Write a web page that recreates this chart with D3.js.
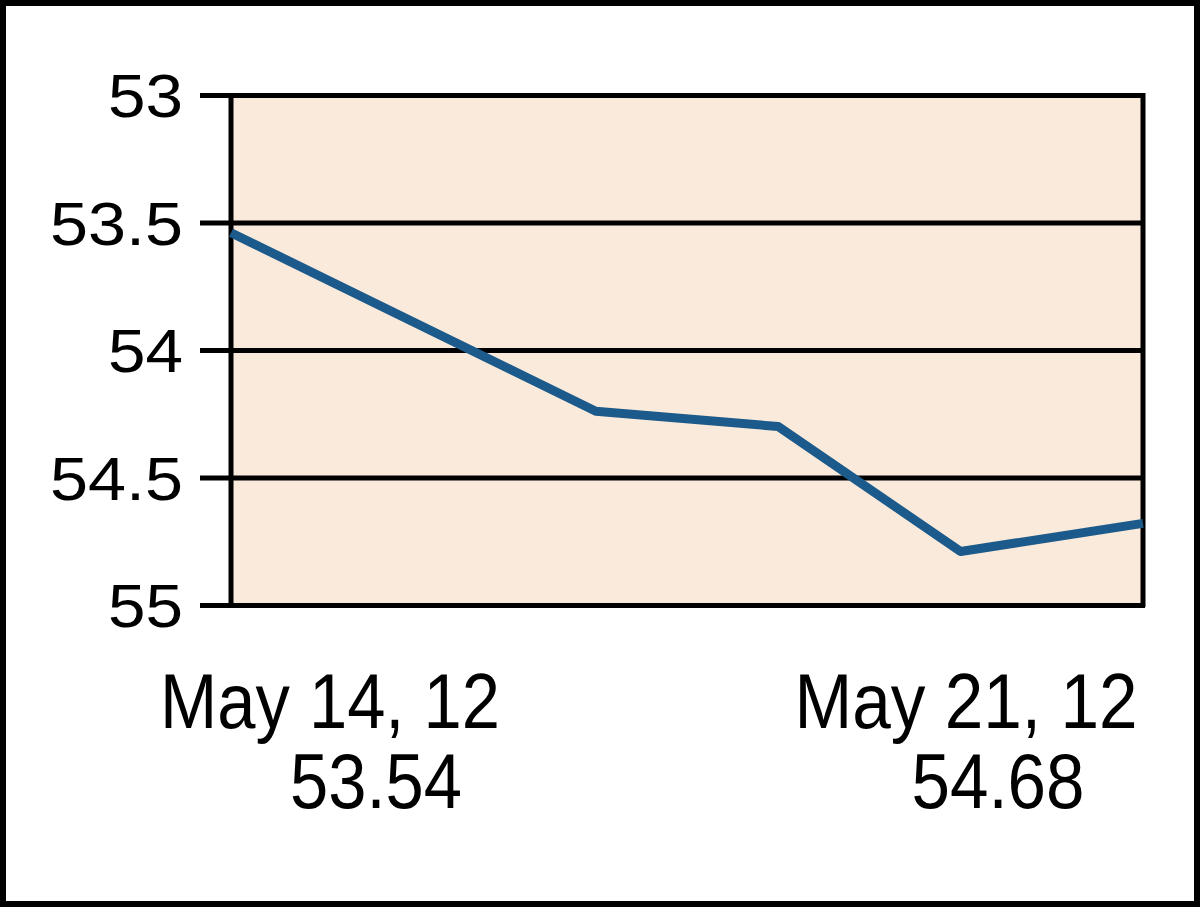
<!DOCTYPE html>
<html>
<head>
<meta charset="utf-8">
<script src="https://cdn.jsdelivr.net/npm/d3@7"></script>
<style>
  html, body { margin: 0; padding: 0; background: #fff; }
  svg { display: block; }
  text { font-family: "Liberation Sans", Arial, sans-serif; fill: #000; }
</style>
</head>
<body>
<svg id="chart" width="1200" height="908"></svg>
<script>
// Data
const dates = ["2012-05-14", "2012-05-15", "2012-05-16", "2012-05-17", "2012-05-18", "2012-05-21"];
const values = [53.54, 53.89, 54.24, 54.30, 54.79, 54.68];
const yTicks = [53, 53.5, 54, 54.5, 55];
const yTickLabels = ["53", "53.5", "54", "54.5", "55"];
const endDateLabels = ["May 14, 12", "May 21, 12"];
const endValueLabels = ["53.54", "54.68"];

const svg = d3.select("#chart");
const W = 1200, H = 908;
const plot = { left: 231, right: 1143, top: 95, bottom: 605 };

// Outer frame
svg.append("rect").attr("x", 0).attr("y", 0).attr("width", W).attr("height", H).attr("fill", "#fff");
svg.append("rect").attr("x", 3).attr("y", 3).attr("width", W - 6).attr("height", H - 7)
  .attr("fill", "none").attr("stroke", "#000").attr("stroke-width", 6);

const x = d3.scalePoint().domain(dates).range([plot.left, plot.right]);
const y = d3.scaleLinear().domain([53, 55]).range([plot.top, plot.bottom]);

// Plot background
svg.append("rect")
  .attr("x", plot.left).attr("y", plot.top)
  .attr("width", plot.right - plot.left).attr("height", plot.bottom - plot.top)
  .attr("fill", "#faeadb");

// Gridlines + ticks (left axis)
const yAxis = d3.axisLeft(y).tickValues(yTicks)
  .tickSize(-(plot.right - plot.left))
  .tickSizeOuter(0)
  .tickFormat("");
const gy = svg.append("g").attr("transform", `translate(${plot.left},0)`).call(yAxis);
gy.select(".domain").remove();
gy.selectAll(".tick line").attr("stroke", "#000").attr("stroke-width", 5)
  .attr("x1", -31).attr("x2", plot.right - plot.left + 2);

// Frame of plot
svg.append("line").attr("x1", plot.left).attr("x2", plot.left)
  .attr("y1", plot.top - 2).attr("y2", plot.bottom + 2)
  .attr("stroke", "#000").attr("stroke-width", 5);
svg.append("line").attr("x1", plot.right).attr("x2", plot.right)
  .attr("y1", plot.top - 2).attr("y2", plot.bottom + 2)
  .attr("stroke", "#000").attr("stroke-width", 5);

// Y labels
const yLabelWidths = { "53": 75, "53.5": 133, "54": 75, "54.5": 133, "55": 75 };
svg.append("g").selectAll("text").data(yTicks).join("text")
  .attr("x", 183)
  .attr("y", d => y(d))
  .attr("dy", "0.36em")
  .attr("text-anchor", "end")
  .attr("font-size", 62)
  .attr("textLength", (d, i) => yLabelWidths[yTickLabels[i]])
  .attr("lengthAdjust", "spacingAndGlyphs")
  .text((d, i) => yTickLabels[i]);

// Line
const line = d3.line().x((d, i) => x(dates[i])).y(d => y(d));
svg.append("path").datum(values)
  .attr("d", line)
  .attr("fill", "none")
  .attr("stroke", "#1b5a8a")
  .attr("stroke-width", 9)
  .attr("stroke-linejoin", "round");

// Bottom labels
const labelCenters = [330, 966];
const dateWidths = [340, 343];
const valueWidths = [172, 173];
endDateLabels.forEach((t, i) => {
  svg.append("text").attr("x", labelCenters[i]).attr("y", 728)
    .attr("text-anchor", "middle").attr("font-size", 78)
    .attr("textLength", dateWidths[i]).attr("lengthAdjust", "spacingAndGlyphs")
    .text(t);
});
const valueCenters = [376, 998];
endValueLabels.forEach((t, i) => {
  svg.append("text").attr("x", valueCenters[i]).attr("y", 808)
    .attr("text-anchor", "middle").attr("font-size", 78)
    .attr("textLength", valueWidths[i]).attr("lengthAdjust", "spacingAndGlyphs")
    .text(t);
});
</script>
</body>
</html>
